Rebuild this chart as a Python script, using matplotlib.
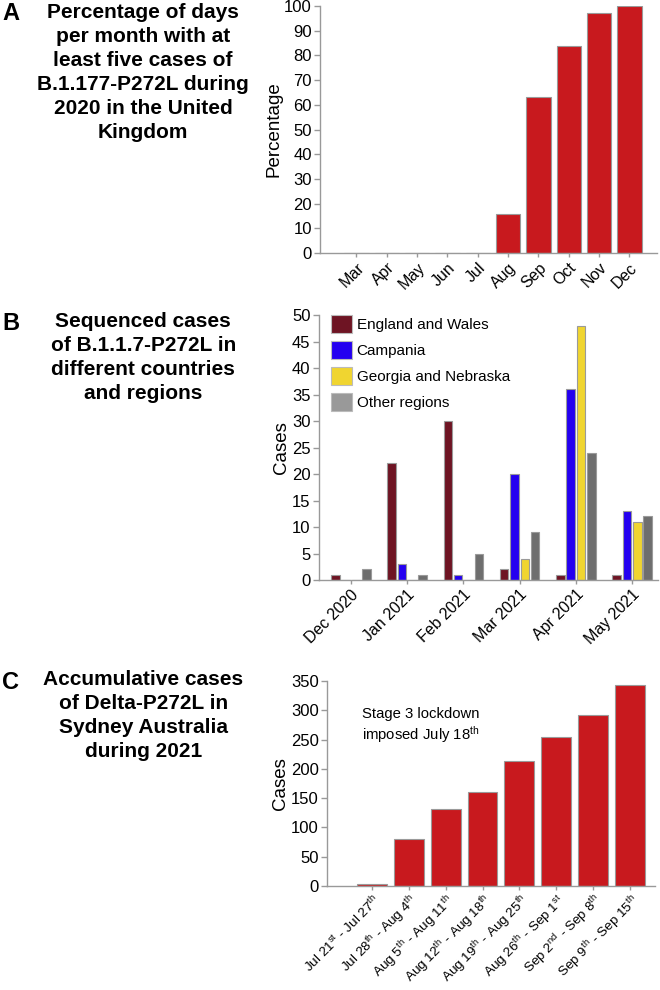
import matplotlib
matplotlib.use("Agg")
import matplotlib.pyplot as plt
import numpy as np

plt.rcParams.update({
    'font.family': ['Liberation Sans', 'DejaVu Sans'],
    'mathtext.fontset': 'custom',
    'mathtext.rm': 'Liberation Sans',
    'mathtext.it': 'Liberation Sans:italic',
    'mathtext.bf': 'Liberation Sans:bold',
})

# panel A data
months_a = ['Mar', 'Apr', 'May', 'Jun', 'Jul', 'Aug', 'Sep', 'Oct', 'Nov', 'Dec']
pct_a = [0, 0, 0, 0, 0, 16, 63, 84, 97, 100]

# panel B data
months_b = ['Dec 2020', 'Jan 2021', 'Feb 2021', 'Mar 2021', 'Apr 2021', 'May 2021']
regions_b = ['England and Wales', 'Campania', 'Georgia and Nebraska', 'Other regions']
england = [1, 22, 30, 2, 1, 1]
campania = [0, 3, 1, 20, 36, 13]
georgia = [0, 0, 0, 4, 48, 11]
other = [2, 1, 5, 9, 24, 12]

# panel C data
weeks_c = [r'Jul 21$^{\rm st}$ - Jul 27$^{\rm th}$',
           r'Jul 28$^{\rm th}$ - Aug 4$^{\rm th}$',
           r'Aug 5$^{\rm th}$ - Aug 11$^{\rm th}$',
           r'Aug 12$^{\rm th}$ - Aug 18$^{\rm th}$',
           r'Aug 19$^{\rm th}$ - Aug 25$^{\rm th}$',
           r'Aug 26$^{\rm th}$ - Sep 1$^{\rm st}$',
           r'Sep 2$^{\rm nd}$ - Sep 8$^{\rm th}$',
           r'Sep 9$^{\rm th}$ - Sep 15$^{\rm th}$']
cases_c = [3, 81, 131, 160, 213, 254, 292, 344]

red = '#C8191E'
edge = '#9a9a9a'
spine_col = '#999999'

fig = plt.figure(figsize=(6.6, 9.9), dpi=100)


def style(ax, xsize=11.5, xpad=2):
    for s in ['top', 'right']:
        ax.spines[s].set_visible(False)
    for s in ['left', 'bottom']:
        ax.spines[s].set_color(spine_col)
        ax.spines[s].set_linewidth(1.0)
    ax.tick_params(axis='both', colors=spine_col, labelcolor='black',
                   length=4, width=1, direction='out', pad=2)
    ax.tick_params(axis='y', labelsize=12)
    ax.tick_params(axis='x', length=3, labelsize=xsize, pad=xpad)


# ---------- A ----------
axA = fig.add_axes([0.485, 0.7444, 0.51, 0.2495])
xa = np.arange(len(months_a))
axA.bar(xa, pct_a, width=0.8, color=red, edgecolor=edge, linewidth=0.8)
axA.set_xlim(-1.2, 9.9)
axA.set_ylim(0, 100)
axA.set_yticks(range(0, 101, 10))
axA.set_xticks(xa)
axA.set_xticklabels(months_a, rotation=45, ha='right', rotation_mode='anchor')
axA.set_ylabel('Percentage', fontsize=13.5, labelpad=1)
style(axA)

# ---------- B ----------
axB = fig.add_axes([0.483, 0.4141, 0.514, 0.2677])
xb = np.arange(len(months_b))
cols_b = ['#6E1423', '#2400F0', '#F0D530', '#6E6E6E']
leg_cols = ['#6E1423', '#2400F0', '#F0D530', '#999999']
series_b = [england, campania, georgia, other]
step = 0.184
for i, (vals, c) in enumerate(zip(series_b, cols_b)):
    axB.bar(xb + (i - 1.5) * step, vals, width=0.15, color=c, edgecolor=edge, linewidth=0.8)
axB.set_xlim(-0.57, 5.46)
axB.set_ylim(0, 50)
axB.set_yticks(range(0, 51, 5))
axB.set_xticks(xb)
axB.set_xticklabels(months_b, rotation=45, ha='right', rotation_mode='anchor')
axB.set_ylabel('Cases', fontsize=13.5, labelpad=1)
style(axB)
handles = [plt.Rectangle((0, 0), 1, 1, facecolor=c, edgecolor='#bbbbbb', linewidth=0.8) for c in leg_cols]
axB.legend(handles, regions_b, loc='upper left', bbox_to_anchor=(0.035, 1.0), frameon=False,
           fontsize=11, handlelength=1.4, handleheight=1.4, handletextpad=0.3,
           labelspacing=0.55, borderpad=0, borderaxespad=0)

# ---------- C ----------
axC = fig.add_axes([0.4955, 0.105, 0.497, 0.207])
xc = np.arange(len(weeks_c))
axC.bar(xc, cases_c, width=0.81, color=red, edgecolor=edge, linewidth=0.8)
axC.set_xlim(-1.22, 7.68)
axC.set_ylim(0, 350)
axC.set_yticks(range(0, 351, 50))
axC.set_xticks(xc)
axC.set_xticklabels(weeks_c, rotation=45, ha='right', rotation_mode='anchor')
axC.set_ylabel('Cases', fontsize=13.5, labelpad=1)
style(axC, xsize=9.7, xpad=1)
axC.text(0.107, 0.875, 'Stage 3 lockdown\nimposed July 18$^{\\rm th}$', transform=axC.transAxes,
         ha='left', va='top', fontsize=10.7, linespacing=1.2)

# ---------- titles ----------
title_kw = dict(ha='center', va='center', fontsize=15, fontweight='bold', linespacing=1.33)
fig.text(0.217, 0.927, 'Percentage of days\nper month with at\nleast five cases of\n'
         'B.1.177-P272L during\n2020 in the United\nKingdom', **title_kw)
fig.text(0.217, 0.639, 'Sequenced cases\nof B.1.1.7-P272L in\ndifferent countries\nand regions', **title_kw)
fig.text(0.217, 0.277, 'Accumulative cases\nof Delta-P272L in\nSydney Australia\nduring 2021', **title_kw)

letter_kw = dict(ha='left', va='center', fontsize=17, fontweight='bold')
fig.text(0.003, 0.986, 'A', **letter_kw)
fig.text(0.003, 0.673, 'B', **letter_kw)
fig.text(0.003, 0.311, 'C', **letter_kw)

fig.savefig('out.png', dpi=100, facecolor='white')
